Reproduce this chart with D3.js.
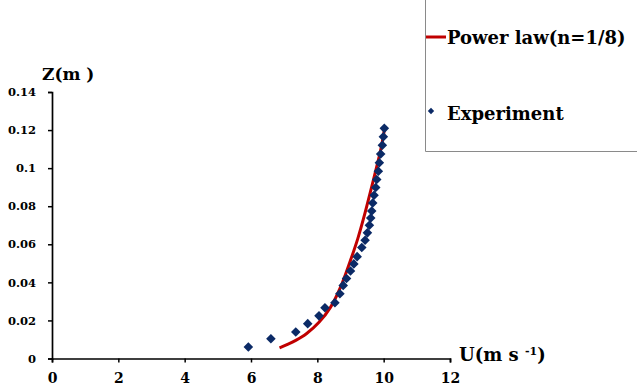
<!DOCTYPE html>
<html lang="en">
<head>
  <meta charset="utf-8" />
  <title>Velocity profile</title>
  <script src="https://cdnjs.cloudflare.com/ajax/libs/d3/7.8.5/d3.min.js"></script>
  <style>
    body {
      margin: 0;
      background: #fff;
    }
    svg text {
      font-family: 'DejaVu Serif', serif;
      font-weight: bold;
      fill: #000;
    }
  </style>
</head>
<body>
<svg id="chart" width="637" height="392"></svg>

<script>
// ------------------- DATA -------------------
// experiment: U (m/s) and Z (m)
const experimentU = [5.92, 6.6, 7.35, 7.71, 8.05, 8.23, 8.53, 8.68, 8.78, 8.88, 9.0, 9.1, 9.2,
                     9.34, 9.44, 9.51, 9.57, 9.61, 9.64, 9.67, 9.71, 9.76, 9.79, 9.84, 9.87,
                     9.91, 9.96, 9.99, 10.02];
const experimentZ = [0.006, 0.0104, 0.0139, 0.0183, 0.0224, 0.0267, 0.0293, 0.034, 0.0384, 0.042, 0.046, 0.0497, 0.0535,
                     0.0583, 0.0621, 0.066, 0.07, 0.0738, 0.0775, 0.0817, 0.0858, 0.0898, 0.094, 0.0984, 0.1028,
                     0.1074, 0.112, 0.1165, 0.1209];

// power law (n=1/8) curve
const powerU = [6.86, 7.12, 7.35, 7.67, 8.05, 8.4, 8.7, 9.0, 9.22, 9.42, 9.65, 9.85, 9.94, 10.02];
const powerZ = [0.0056, 0.0075, 0.0095, 0.013, 0.019, 0.027, 0.0375, 0.0516, 0.063, 0.0753, 0.091, 0.105, 0.112, 0.12];

const xTicks = [0, 2, 4, 6, 8, 10, 12];
const yTicks = [0, 0.02, 0.04, 0.06, 0.08, 0.1, 0.12, 0.14];
const yTickLabels = ["0", "0.02", "0.04", "0.06", "0.08", "0.1", "0.12", "0.14"];

const seriesNames = ["Power law(n=1/8)", "Experiment"];

// ------------------- CHART -------------------
const svg = d3.select("#chart");

const x = d3.scaleLinear().domain([0, 12]).range([52, 450]);
const y = d3.scaleLinear().domain([0, 0.14]).range([358.5, 92]);

const xAxis = svg.append("g")
  .attr("transform", `translate(0,${y(0)})`)
  .call(d3.axisBottom(x).tickValues(xTicks).tickSize(4).tickSizeOuter(4).tickPadding(9).tickFormat(d3.format("d")));

const yAxis = svg.append("g")
  .attr("transform", `translate(${x(0)},0)`)
  .call(d3.axisLeft(y).tickValues(yTicks).tickSize(4).tickSizeOuter(4).tickPadding(12)
    .tickFormat((d, i) => yTickLabels[i]));

[xAxis, yAxis].forEach(a => {
  a.select(".domain").attr("stroke", "#000").attr("stroke-width", 1.7);
  a.selectAll(".tick line").attr("stroke", "#000").attr("stroke-width", 1.5);
});
xAxis.selectAll(".tick text").style("font-size", "14px").attr("dy", "0.85em");
yAxis.selectAll(".tick text").style("font-size", "11.5px");

// axis titles
svg.append("text")
  .attr("x", 42).attr("y", 80)
  .style("font-size", "17px")
  .text("Z(m )");

const xTitle = svg.append("text")
  .attr("x", 459).attr("y", 361)
  .style("font-size", "18px");
xTitle.append("tspan").text("U(m s ");
xTitle.append("tspan").attr("dy", -6).style("font-size", "11px").text("-1");
xTitle.append("tspan").attr("dy", 6).text(")");

// power law line
const lineData = powerU.map((u, i) => ({ u, z: powerZ[i] }));
svg.append("path")
  .datum(lineData)
  .attr("fill", "none")
  .attr("stroke", "#c00000")
  .attr("stroke-width", 3)
  .attr("d", d3.line().curve(d3.curveCatmullRom).x(d => x(d.u)).y(d => y(d.z)));

// experiment markers
const pts = experimentU.map((u, i) => ({ u, z: experimentZ[i] }));
const diamond = d3.symbol().type(d3.symbolSquare).size(46);
svg.selectAll(".pt")
  .data(pts)
  .enter()
  .append("path")
  .attr("class", "pt")
  .attr("d", diamond)
  .attr("transform", d => `translate(${x(d.u)},${y(d.z)}) rotate(45)`)
  .attr("fill", "#0b2a66");

// legend box (only left and bottom borders visible)
const legend = svg.append("g");
legend.append("path")
  .attr("d", "M425.5,0 V151.5 H637")
  .attr("fill", "none")
  .attr("stroke", "#8a8a8a")
  .attr("stroke-width", 1);

legend.append("line")
  .attr("x1", 426).attr("x2", 446)
  .attr("y1", 37).attr("y2", 37)
  .attr("stroke", "#c00000")
  .attr("stroke-width", 3);
legend.append("text")
  .attr("x", 447).attr("y", 44)
  .style("font-size", "18px")
  .text(seriesNames[0]);

legend.append("path")
  .attr("d", d3.symbol().type(d3.symbolSquare).size(20))
  .attr("transform", "translate(431,111) rotate(45)")
  .attr("fill", "#0b2a66");
legend.append("text")
  .attr("x", 447).attr("y", 120)
  .style("font-size", "18px")
  .text(seriesNames[1]);
</script>
</body>
</html>
